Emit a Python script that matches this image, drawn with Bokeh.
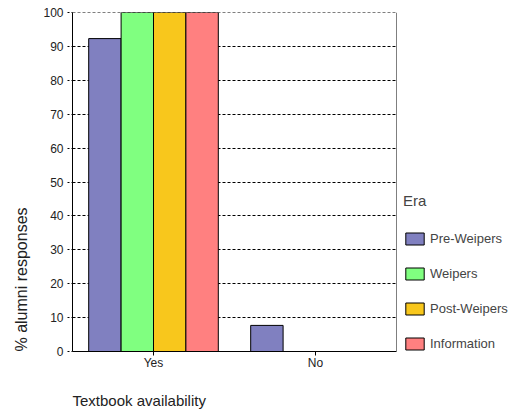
from bokeh.plotting import figure
from bokeh.models import (ColumnDataSource, FactorRange, Range1d, Legend, LegendItem,
                          Title, SingleIntervalTicker, Span)
from bokeh.transform import dodge
from bokeh.embed import file_html
from bokeh.resources import INLINE

categories = ["Yes", "No"]
series = ["Pre-Weipers", "Weipers", "Post-Weipers", "Information"]
pre_weipers = [92.3, 7.7]
weipers = [100, 0]
post_weipers = [100, 0]
information = [100, 0]
colors = ["#8080C0", "#80FF80", "#F8C71C", "#FF8080"]
y_limits = [0, 100]

FONT = "Liberation Sans"

source = ColumnDataSource(data=dict(
    cat=categories,
    pre=pre_weipers,
    wei=weipers,
    post=post_weipers,
    info=information,
))

p = figure(x_range=FactorRange(*categories, range_padding=0),
           y_range=Range1d(*y_limits),
           frame_width=324, frame_height=339, output_backend="svg", toolbar_location=None,
           min_border_left=72, min_border_top=12, min_border_bottom=62, min_border_right=117)

keys = ["pre", "wei", "post", "info"]
offsets = [-0.3, -0.1, 0.1, 0.3]
renderers = []
for k, off, col in zip(keys, offsets, colors):
    r = p.vbar(x=dodge("cat", off, range=p.x_range), top=k, width=0.2, source=source,
               fill_color=col, line_color="black", line_width=1)
    renderers.append(r)

p.outline_line_color = None
p.background_fill_color = "white"
p.border_fill_color = "white"

p.xgrid.grid_line_color = None
p.ygrid.grid_line_color = "black"
p.ygrid.grid_line_dash = "3 2"
p.ygrid.grid_line_width = 1

# top grid line at the upper end of the axis (not drawn by the grid itself)
top_line = Span(location=y_limits[1], dimension="width", line_color="black",
                line_dash="3 2", line_width=1, level="underlay")
p.add_layout(top_line)

p.yaxis.ticker = SingleIntervalTicker(interval=10)
p.yaxis.minor_tick_line_color = None
p.yaxis.major_tick_out = 5
p.yaxis.major_tick_in = 0
p.yaxis.major_tick_line_dash = "2 2"
p.yaxis.major_label_text_font = FONT
p.yaxis.major_label_text_font_size = "12px"
p.yaxis.major_label_text_color = "#222222"
p.yaxis.major_label_standoff = 4
p.yaxis.axis_line_color = "black"

p.xaxis.major_tick_out = 4
p.xaxis.major_tick_in = 0
p.xaxis.major_label_text_font = FONT
p.xaxis.major_label_text_font_size = "12px"
p.xaxis.major_label_text_color = "#222222"
p.xaxis.major_label_standoff = 0
p.xaxis.axis_line_color = "black"

# right border of the plotting area
right_border = Span(location=len(categories), dimension="height",
                    line_color="black", line_width=1)
p.add_layout(right_border)

legend = Legend(items=[LegendItem(label=s, renderers=[r]) for s, r in zip(series, renderers)],
                title="Era", title_text_font=FONT, title_text_font_size="15px",
                title_text_font_style="normal", title_standoff=22,
                label_text_font=FONT, label_text_font_size="13px",
                glyph_width=23, glyph_height=15, label_height=15, spacing=20,
                label_standoff=4, margin=0, padding=0, location=(7, 0),
                border_line_color=None, background_fill_alpha=0)
p.add_layout(legend, "right")

ytitle = Title(text="% alumni responses", align="left", text_font=FONT,
               text_font_size="16px", text_font_style="normal", text_color="#222222",
               standoff=21)
p.add_layout(ytitle, "left")

xtitle = Title(text="Textbook availability", align="left", text_font=FONT,
               text_font_size="15px", text_font_style="normal", text_color="#222222",
               standoff=35)
p.add_layout(xtitle, "below")

open("out.html", "w").write(file_html(p, INLINE))
